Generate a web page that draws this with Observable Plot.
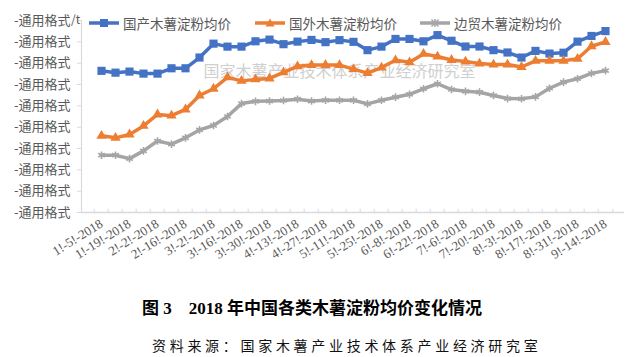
<!DOCTYPE html>
<html><head><meta charset="utf-8">
<script src="https://cdn.jsdelivr.net/npm/d3@7"></script>
<script src="https://cdn.jsdelivr.net/npm/@observablehq/plot@0.6"></script>
<style>
body{margin:0;background:#fff;width:632px;height:357px;overflow:hidden;font-family:"Noto Sans CJK SC",sans-serif;}
#wrap{position:relative;width:632px;height:275px;}
#legend{position:absolute;top:0;left:0;width:632px;height:30px;font-size:13.5px;color:#595959;}
.item{position:absolute;top:14px;height:18px;line-height:18px;white-space:nowrap;display:flex;align-items:center;}
.item svg{margin-right:4px;}
#title{margin-top:24px;height:20px;line-height:20px;padding-left:142px;font-family:"Liberation Serif","Noto Sans CJK SC",serif;font-weight:bold;font-size:17px;color:#000;white-space:pre;}
#caption{margin-top:16px;height:20px;line-height:20px;padding-left:152px;font-family:"Noto Sans CJK SC",serif;font-size:14px;letter-spacing:3.7px;color:#111;white-space:nowrap;}
</style></head><body>
<div id="wrap"><div id="chart"></div><div id="legend"></div></div>
<div id="title">图 3　2018 年中国各类木薯淀粉均价变化情况</div>
<div id="caption">资料来源：国家木薯产业技术体系产业经济研究室</div>
<script>
const dates = ["1/5","1/12","1/19","1/26","2/2","2/9","2/16","2/23","3/2","3/9","3/16","3/23","3/30","4/6","4/13","4/20","4/27","5/4","5/11","5/18","5/25","6/1","6/8","6/15","6/22","6/29","7/6","7/13","7/20","7/27","8/3","8/10","8/17","8/24","8/31","9/7","9/14"];
const domestic = [3828,3811,3821,3802,3802,3852,3852,3953,4083,4055,4055,4105,4121,4078,4102,4118,4097,4116,4100,4022,4055,4127,4127,4105,4163,4110,4056,4056,4022,4000,3953,4015,3990,3998,4102,4155,4201];
const imported = [3219,3200,3231,3312,3419,3408,3466,3597,3660,3767,3734,3748,3757,3814,3870,3882,3883,3882,3844,3807,3859,3927,3908,3987,3962,3930,3915,3896,3887,3887,3864,3922,3922,3922,3941,4059,4099];
const border = [3037,3037,3005,3078,3170,3141,3200,3274,3316,3400,3521,3542,3545,3550,3562,3545,3552,3552,3552,3518,3552,3581,3608,3660,3707,3653,3636,3628,3597,3568,3566,3584,3665,3722,3754,3804,3830];
const seriesNames = ["国产木薯淀粉均价","国外木薯淀粉均价","边贸木薯淀粉均价"];
const seriesColors = ["#4472C4","#ED7D31","#A5A5A5"];
const labeledDates = ["1/5","1/19","2/2","2/16","3/2","3/16","3/30","4/13","4/27","5/11","5/25","6/8","6/22","7/6","7/20","8/3","8/17","8/31","9/14"];
const tickLabels = ["1!-5!-2018","1!-19!-2018","2!-2!-2018","2!-16!-2018","3!-2!-2018","3!-16!-2018","3!-30!-2018","4!-13!-2018","4!-27!-2018","5!-11!-2018","5!-25!-2018","6!-8!-2018","6!-22!-2018","7!-6!-2018","7!-20!-2018","8!-3!-2018","8!-17!-2018","8!-31!-2018","9!-14!-2018"];
const yTicks = [2500,2700,2900,3100,3300,3500,3700,3900,4100,4300];
const yTickLabel = "-通用格式";
const yUnit = "/t";
const watermark = "国家木薯产业技术体系产业经济研究室";

const seriesValues = [domestic, imported, border];
const symbols = ["square","triangle","asterisk"];
const labelMap = Object.fromEntries(labeledDates.map((d,i)=>[d,tickLabels[i]]));
const rows = seriesValues.flatMap((vals,s)=>vals.map((v,i)=>({date:dates[i],value:v,series:seriesNames[s]})));

const W=632,H=275,mL=81,mR=8,mT=20,mB=63;
const step=(W-mL-mR)/dates.length;
const marks = [
  Plot.text([watermark],{x:()=>dates[17],y:()=>3814,text:d=>d,fill:"#cfcfcf",fontSize:16,fontFamily:"Noto Sans CJK SC"}),
  Plot.ruleY([yTicks[0]],{stroke:"#d9d9d9",strokeWidth:1.5}),
  Plot.frame({anchor:"left",stroke:"#d9d9d9",strokeWidth:1.2}),
  Plot.ruleX(dates,{x:d=>d,y1:yTicks[0],y2:yTicks[0]+30,dx:-step/2,stroke:"#d9d9d9"}),
  Plot.ruleX([dates[dates.length-1]],{x:d=>d,y1:yTicks[0],y2:yTicks[0]+30,dx:step/2,stroke:"#d9d9d9"}),
  Plot.axisY({ticks:yTicks,tickFormat:()=>yTickLabel,tickSize:4,tickPadding:7,fontSize:13,stroke:"#d9d9d9",fill:"#595959",label:null}),
  Plot.text([yUnit],{y:()=>yTicks[yTicks.length-1],text:d=>d,frameAnchor:"left",dx:-10.5,fill:"#595959",fontSize:12,textAnchor:"start"}),
  Plot.axisX({ticks:labeledDates,tickFormat:d=>labelMap[d],tickRotate:-32,tickSize:0,tickPadding:10,fontSize:13,fontFamily:"Liberation Serif",fill:"#595959",label:null})
];
seriesNames.forEach((name,s)=>{
  const data = rows.filter(r=>r.series===name);
  marks.push(Plot.line(data,{x:"date",y:"value",stroke:seriesColors[s],strokeWidth:3.5,strokeLinejoin:"round"}));
  if(symbols[s]==="asterisk"){
    marks.push(Plot.dot(data,{x:"date",y:"value",symbol:"asterisk",r:3.6,stroke:seriesColors[s],strokeWidth:1.6}));
  } else if(symbols[s]==="square"){
    marks.push(Plot.dot(data,{x:"date",y:"value",symbol:"square",r:4.6,fill:seriesColors[s],stroke:"none"}));
  } else {
    marks.push(Plot.dot(data,{x:"date",y:"value",symbol:"triangle",r:3.8,fill:seriesColors[s],stroke:"none"}));
  }
});

const chart = Plot.plot({
  width:W,height:H,marginLeft:mL,marginRight:mR,marginTop:mT,marginBottom:mB,
  style:{fontFamily:"Noto Sans CJK SC",color:"#595959",background:"#fff",overflow:"visible"},
  x:{type:"point",domain:dates,padding:0.5,axis:null},
  y:{domain:[yTicks[0],yTicks[yTicks.length-1]],axis:null},
  marks
});
document.getElementById("chart").appendChild(chart);

// legend
const legendLeft = [89,255,420];
const legend = document.getElementById("legend");
seriesNames.forEach((name,s)=>{
  const item = document.createElement("div");
  item.className="item";
  item.style.left = legendLeft[s]+"px";
  const c = seriesColors[s];
  let marker;
  if(symbols[s]==="square") marker = `<rect x="11" y="2" width="8" height="8" fill="${c}"/>`;
  else if(symbols[s]==="triangle") marker = `<path d="M15,1.5 L19.5,9.5 L10.5,9.5 Z" fill="${c}"/>`;
  else marker = `<g stroke="${c}" stroke-width="1.5"><line x1="15" y1="2" x2="15" y2="10"/><line x1="11.5" y1="2.5" x2="18.5" y2="9.5"/><line x1="18.5" y1="2.5" x2="11.5" y2="9.5"/></g>`;
  item.innerHTML = `<svg width="30" height="12"><line x1="0" y1="6" x2="30" y2="6" stroke="${c}" stroke-width="3.5"/>${marker}</svg><span>${name}</span>`;
  legend.appendChild(item);
});
</script>
</body></html>
